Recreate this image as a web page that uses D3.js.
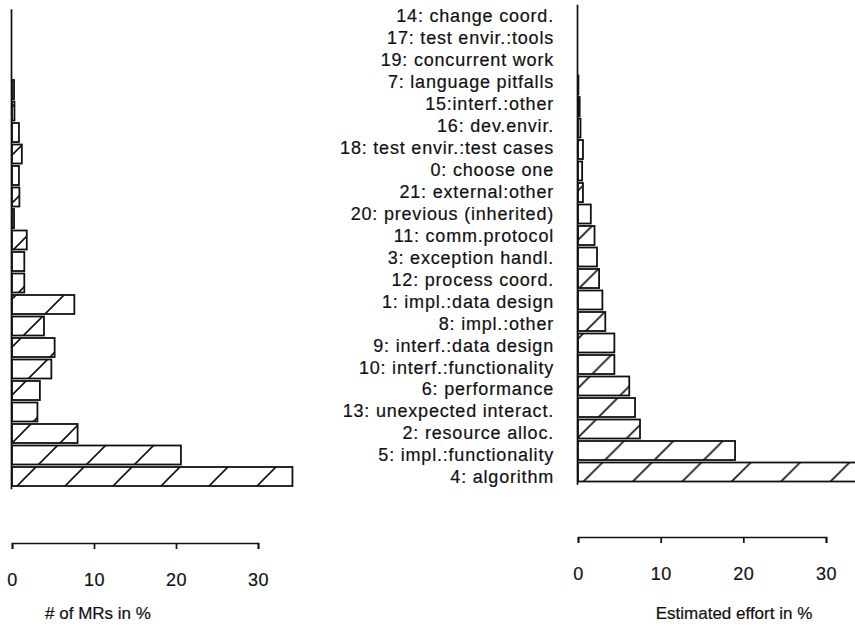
<!DOCTYPE html>
<html>
<head>
<meta charset="utf-8">
<script src="https://cdn.jsdelivr.net/npm/d3@7"></script>
<style>
  body { margin: 0; background: #fff; }
  text { font-family: "Liberation Sans", Arial, sans-serif; fill: #111; stroke: #111; stroke-width: 0.2px; }
  .lbl { font-size: 18px; letter-spacing: 0.8px; }
  .axis text { font-size: 18px; letter-spacing: 0.5px; }
  .axis path, .axis line { stroke: #111; stroke-width: 1.7; }
  .title { font-size: 17px; }
  .bar { stroke: #111; stroke-width: 1.8; }
</style>
</head>
<body>
<svg width="855" height="636"></svg>
<script>
// defect types, top to bottom
const categories = [
  "14: change coord.", "17: test envir.:tools", "19: concurrent work",
  "7: language pitfalls", "15:interf.:other", "16: dev.envir.",
  "18: test envir.:test cases", "0: choose one", "21: external:other",
  "20: previous (inherited)", "11: comm.protocol", "3: exception handl.",
  "12: process coord.", "1: impl.:data design", "8: impl.:other",
  "9: interf.:data design", "10: interf.:functionality", "6: performance",
  "13: unexpected interact.", "2: resource alloc.", "5: impl.:functionality",
  "4: algorithm"
]
// share of MRs (%)
const mrShare = [0, 0, 0, 0.25, 0.3, 0.85, 1.2, 0.85, 0.9, 0.25, 1.8, 1.5,
  1.5, 7.6, 3.9, 5.2, 4.8, 3.4, 3.1, 8.0, 20.6, 34.2]
// share of estimated effort (%)
const effortShare = [0, 0, 0, 0.05, 0.2, 0.3, 0.6, 0.5, 0.6, 1.55, 2.0, 2.3,
  2.55, 2.95, 3.3, 4.4, 4.4, 6.2, 6.9, 7.5, 19.0, 36]
const ticks = [0, 10, 20, 30]

const svg = d3.select("svg")
const defs = svg.append("defs")

// diagonal hatch running across the whole plot
function hatch(id, period, phase) {
  const p = defs.append("pattern")
    .attr("id", id)
    .attr("patternUnits", "userSpaceOnUse")
    .attr("x", phase).attr("y", 0)
    .attr("width", period).attr("height", period)
  p.append("rect").attr("width", period).attr("height", period).attr("fill", "#fff")
  const segs = [[-1, period + 1, period + 1, -1], [-1, 1, 1, -1],
    [period - 1, period + 1, period + 1, period - 1]]
  segs.forEach(s => p.append("line")
    .attr("x1", s[0]).attr("y1", s[1]).attr("x2", s[2]).attr("y2", s[3])
    .attr("stroke", "#111").attr("stroke-width", 1.6))
}
hatch("hatchL", 48, 23)
hatch("hatchR", 49.4, 27.6)

function panel(values, xRange, yTop, axisY, fillId, title, titleX) {
  const x = d3.scaleLinear().domain([0, 30]).range(xRange)
  const y = d3.scaleBand()
    .domain(categories)
    .range([yTop, yTop + categories.length * 21.5])
    .paddingInner(0.116)
    .paddingOuter(0.058)

  const g = svg.append("g")

  g.selectAll("rect")
    .data(values)
    .enter()
    .append("rect")
    .attr("class", "bar")
    .attr("x", x(0))
    .attr("y", (d, i) => y(categories[i]))
    .attr("width", d => x(d) - x(0))
    .attr("height", y.bandwidth())
    .attr("fill", `url(#${fillId})`)

  // vertical baseline
  g.append("line")
    .attr("x1", x(0) - 0.5).attr("x2", x(0) - 0.5)
    .attr("y1", yTop - 5).attr("y2", y.range()[1] + 2)
    .attr("stroke", "#111").attr("stroke-width", 1.7)

  const axis = g.append("g")
    .attr("class", "axis")
    .attr("transform", `translate(0, ${axisY})`)
    .call(d3.axisBottom(x).tickValues(ticks).tickSize(6).tickPadding(24))
  axis.selectAll("text").attr("fill", "#111")

  g.append("text")
    .attr("class", "title")
    .attr("x", titleX)
    .attr("y", 619)
    .attr("text-anchor", "middle")
    .text(title)
}

panel(mrShare, [12, 258], 14.25, 543, "hatchL", "# of MRs in %", 98)
panel(effortShare, [578, 826], 9.75, 537, "hatchR", "Estimated effort in %", 734)

// category labels between the two panels
const yl = d3.scalePoint().domain(categories).range([16, 477])
svg.append("g")
  .selectAll("text")
  .data(categories)
  .enter()
  .append("text")
  .attr("class", "lbl")
  .attr("x", 554)
  .attr("y", d => yl(d))
  .attr("dy", "0.35em")
  .attr("text-anchor", "end")
  .text(d => d)
</script>
</body>
</html>
